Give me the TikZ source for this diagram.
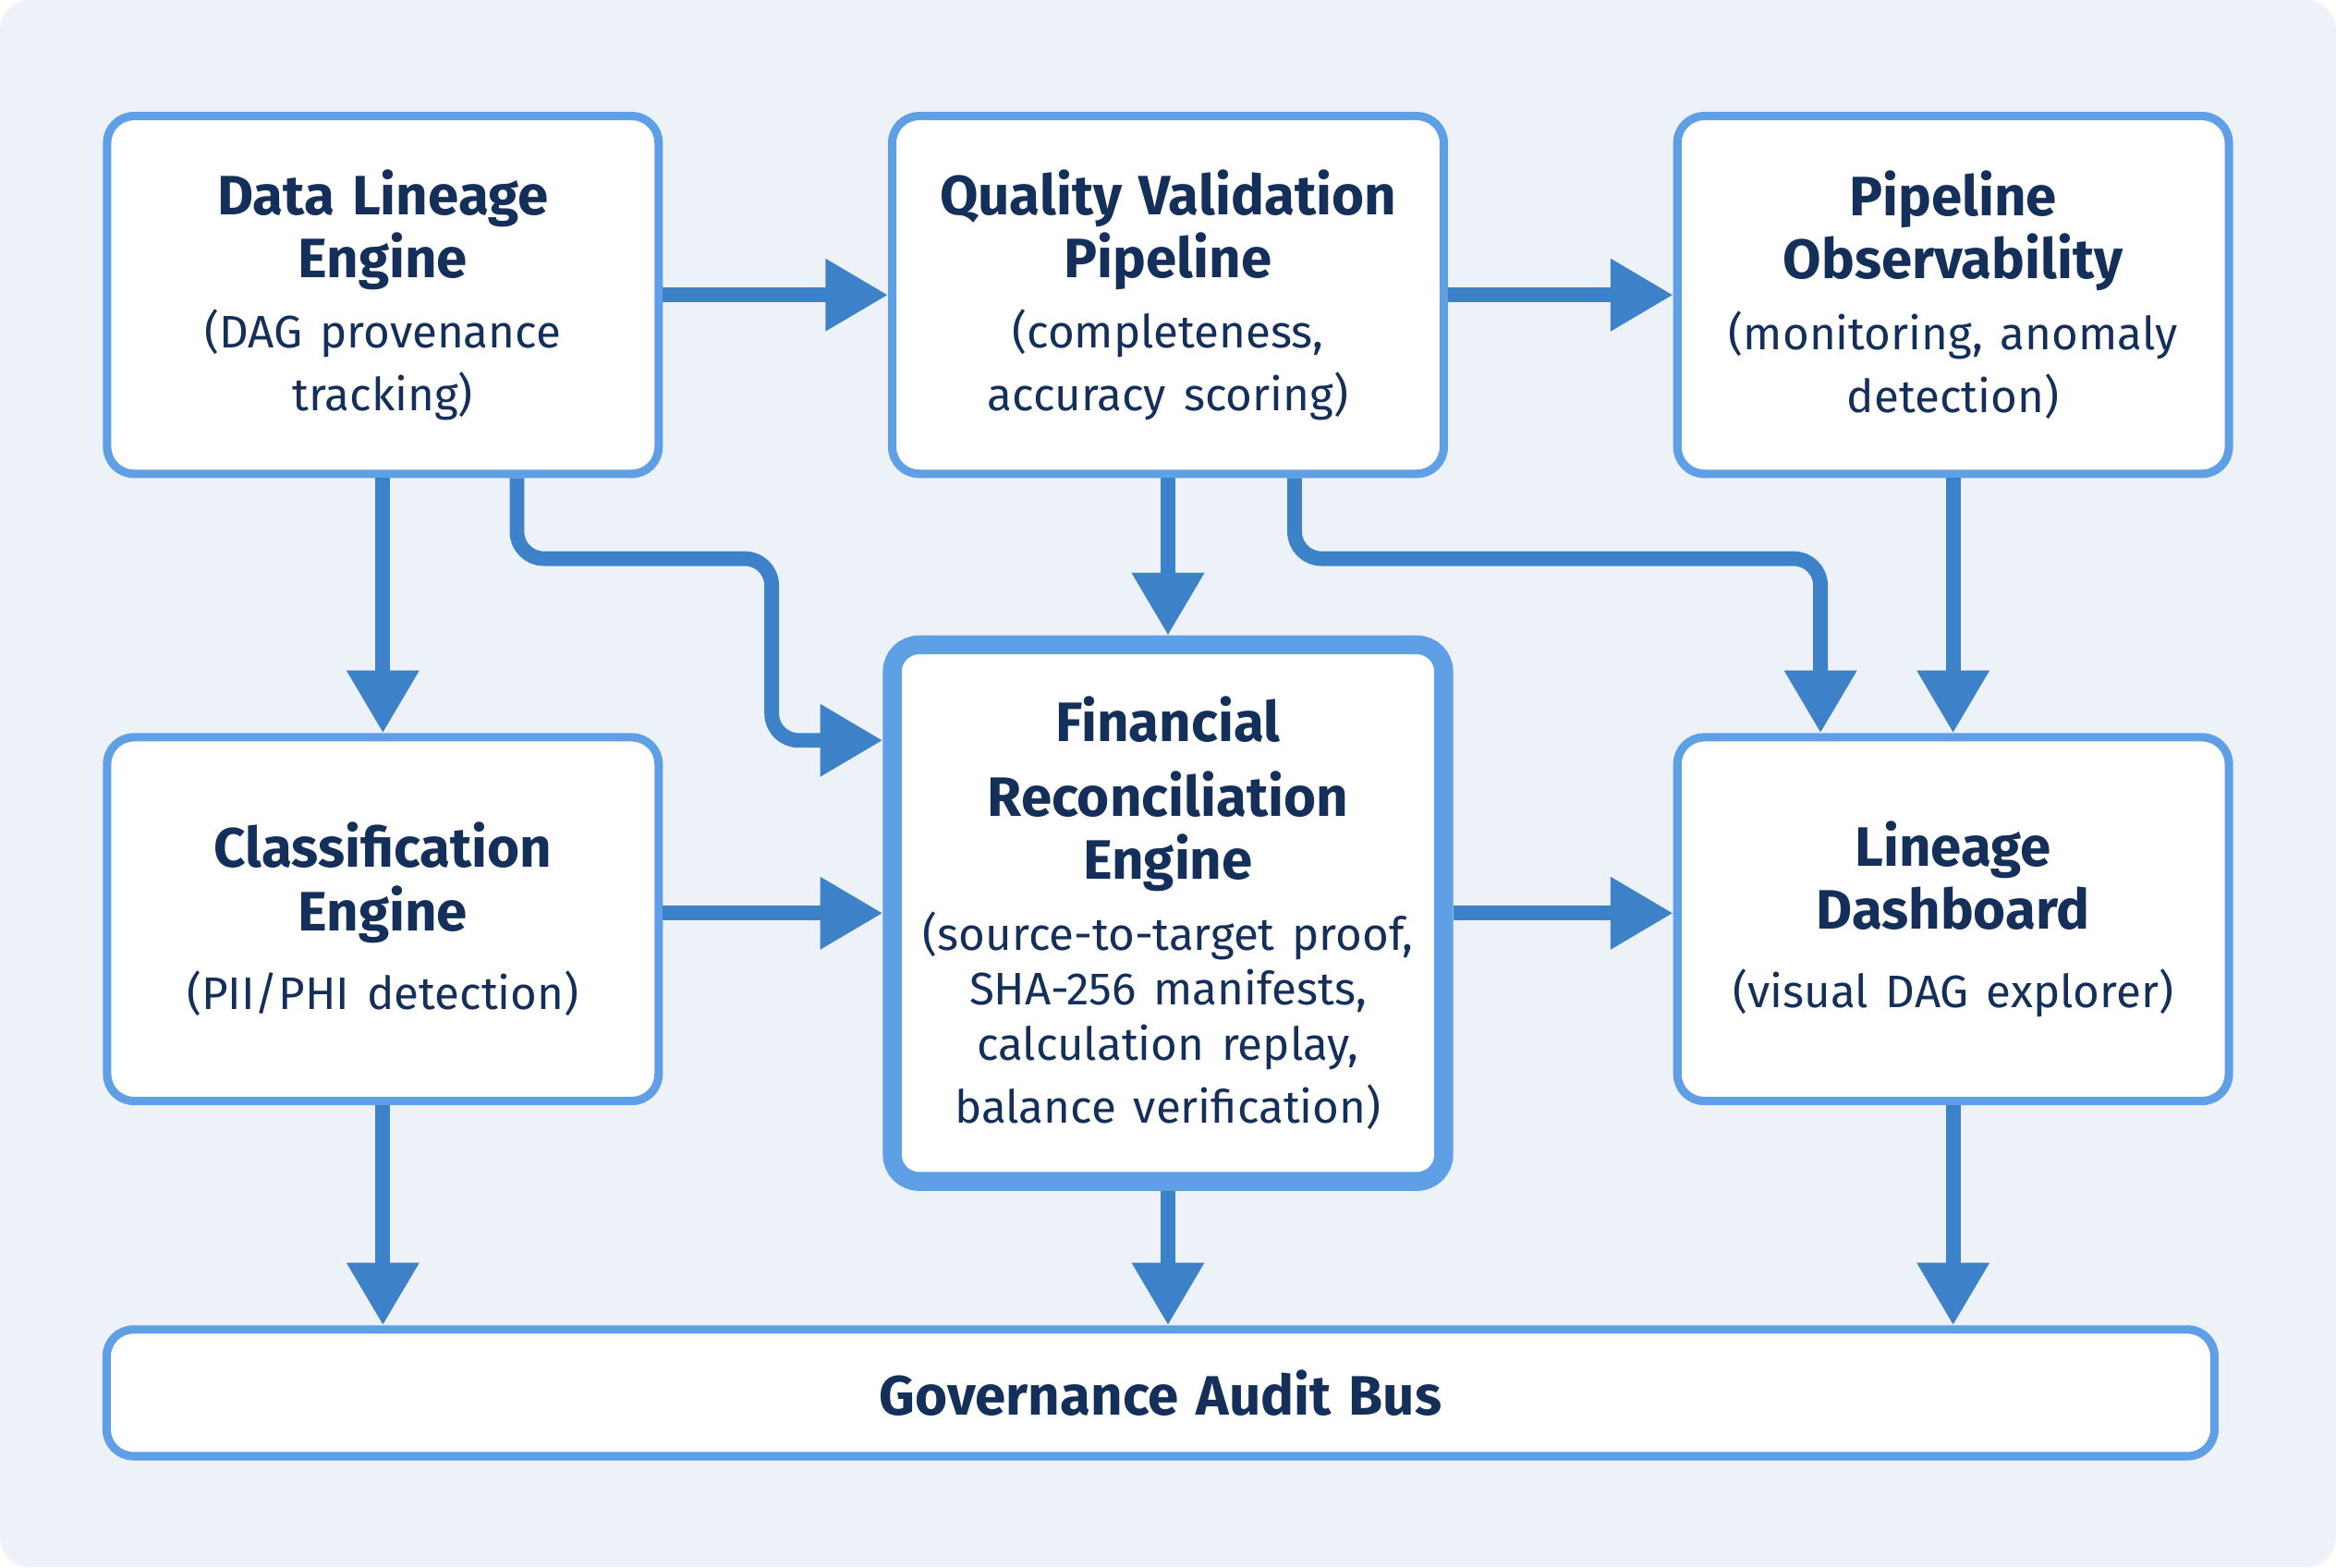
\documentclass[tikz,border=0pt]{standalone}
\usepackage{fontspec}
\setmainfont{Fira Sans}
\usetikzlibrary{arrows.meta,calc}

\definecolor{bgc}{HTML}{EDF1F8}
\definecolor{edgec}{HTML}{5E9FE6}
\definecolor{arrc}{HTML}{3D82C8}
\definecolor{txtc}{HTML}{14305A}

\newcommand{\ttl}{\fontsize{10.6}{14.2}\selectfont\bfseries}
\newcommand{\sub}{\fontsize{8.7}{10.5}\selectfont}

\tikzset{
  box/.style={draw=edgec, line width=1.6pt, rounded corners=0.18cm, fill=white,
    text=txtc, align=center, text width=3.6cm, minimum width=3.7cm, inner sep=0pt},
  flow/.style={draw=arrc, line width=2.8pt, -{Triangle[length=0.42cm,width=0.46cm]}},
}

\begin{document}
\begin{tikzpicture}[x=0.01cm, y=-0.01cm]
    \fill[bgc, rounded corners=0.2cm] (0,0) rectangle (1568,1052);
    \useasboundingbox (0,0) rectangle (1568,1052);

    % Boxes
    \node[box, minimum height=2.4cm] (dl) at (257,198) {{\ttl Data Lineage\\Engine}\\[3pt]{\sub (DAG provenance\\tracking)}};
    \node[box, minimum height=2.4cm] (qv) at (784,198) {{\ttl Quality Validation\\Pipeline}\\[3pt]{\sub (completeness,\\accuracy scoring)}};
    \node[box, minimum height=2.4cm] (po) at (1311,198) {{\ttl Pipeline\\Observability}\\[3pt]{\sub (monitoring, anomaly\\detection)}};
    \node[box, minimum height=2.44cm] (ce) at (257,617) {{\ttl Classification\\Engine}\\[3pt]{\sub (PII/PHI detection)}};
    \node[box, minimum height=3.6cm, minimum width=3.7cm, text width=3.7cm, line width=3.6pt] (fr) at (784,613) {{\ttl Financial\\Reconciliation\\Engine}\\[3pt]{\sub (source-to-target proof,\\SHA-256 manifests,\\calculation replay,\\balance verification)}};
    \node[box, minimum height=2.44cm] (ld) at (1311,617) {{\ttl Lineage\\Dashboard}\\[3pt]{\sub (visual DAG explorer)}};
    \node[box, minimum height=0.85cm, minimum width=14.14cm, text width=14cm] (bus) at (779,935) {\ttl Governance Audit Bus};

    % Top row
    \draw[flow] (dl.east) -- (qv.west);
    \draw[flow] (qv.east) -- (po.west);

    % Down into middle row
    \draw[flow] (dl.south) -- (ce.north);
    \draw[flow] (qv.south) -- (fr.north);
    \draw[flow] (po.south) -- (ld.north);
    \draw[flow, rounded corners=0.18cm] ($(dl.south)+(90,0)$) |- (518,375) |- ($(fr.west)+(0,-116)$);
    \draw[flow, rounded corners=0.18cm] ($(qv.south)+(85,0)$) |- (1222,375) -- ($(ld.north)+(-89,0)$);

    % Middle row
    \draw[flow] (fr.west -| ce.east) -- (fr.west);
    \draw[flow] (fr.east) -- (fr.east -| ld.west);

    % Into the bus
    \draw[flow] (ce.south) -- (ce.south |- bus.north);
    \draw[flow] (fr.south) -- (fr.south |- bus.north);
    \draw[flow] (ld.south) -- (ld.south |- bus.north);
\end{tikzpicture}
\end{document}
